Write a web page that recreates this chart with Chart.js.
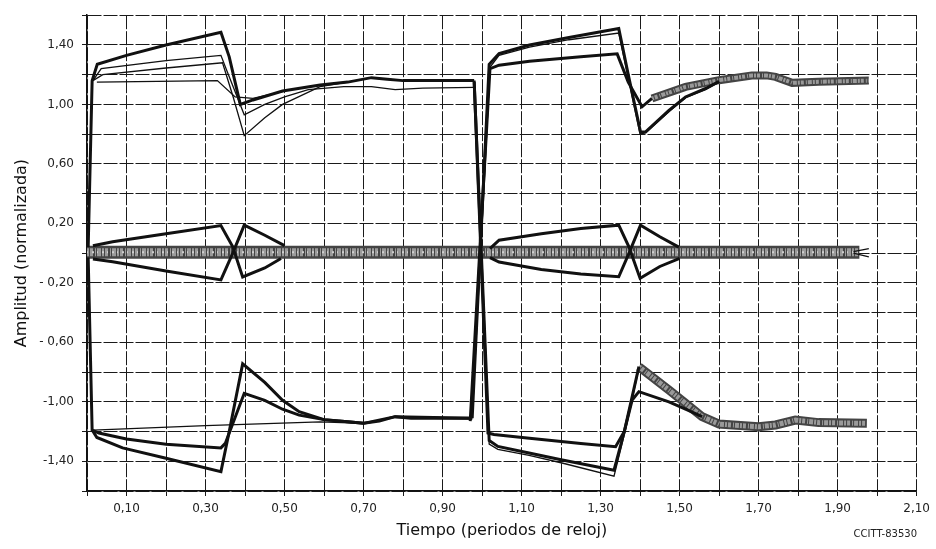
<!DOCTYPE html>
<html>
<head>
<meta charset="utf-8">
<script src="https://cdn.jsdelivr.net/npm/chart.js@4"></script>
<style>
  html, body { margin: 0; padding: 0; background: #fff; }
  #wrap { width: 936px; height: 549px; }
</style>
</head>
<body>
<div id="wrap"><canvas id="eyeChart" width="936" height="549"></canvas></div>
<script>
// tick labels
const xTickLabels = ["0,10", "0,30", "0,50", "0,70", "0,90", "1,10", "1,30", "1,50", "1,70", "1,90", "2,10"];
const yTickValues = [1.4, 1.0, 0.6, 0.2, -0.2, -0.6, -1.0, -1.4];
const yTickLabels = ["1,40", "1,00", "0,60", "0,20", "- 0,20", "- 0,60", "-1,00", "-1,40"];

// first period, "1" level traces
const up1A = [[0.003, 0.04], [0.013, 1.16], [0.026, 1.27], [0.1, 1.33], [0.2, 1.40], [0.339, 1.485], [0.36, 1.32], [0.388, 1.0], [0.42, 1.03], [0.495, 1.09], [0.59, 1.13], [0.66, 1.15], [0.72, 1.18], [0.76, 1.17], [0.8, 1.16], [0.98, 1.16]];
const up1B = [[0.015, 1.16], [0.036, 1.24], [0.2, 1.295], [0.339, 1.33], [0.355, 1.22], [0.398, 0.93], [0.45, 1.0], [0.5, 1.05], [0.56, 1.10], [0.65, 1.12], [0.72, 1.12], [0.78, 1.10], [0.85, 1.11], [0.98, 1.115]];
const up1C = [[0.015, 1.16], [0.04, 1.20], [0.2, 1.245], [0.343, 1.28], [0.37, 1.05], [0.398, 0.79], [0.45, 0.91], [0.495, 1.0], [0.59, 1.12], [0.66, 1.15], [0.72, 1.18], [0.8, 1.16], [0.98, 1.16]];
const up1D = [[0.025, 1.15], [0.33, 1.16], [0.375, 1.05], [0.42, 1.04], [0.5, 1.09]];

// first period, "-1" level traces
const lo1A = [[0.003, -0.03], [0.013, -1.19], [0.03, -1.21], [0.1, -1.25], [0.2, -1.285], [0.339, -1.31], [0.35, -1.28], [0.398, -0.943], [0.45, -0.99], [0.495, -1.05], [0.537, -1.09], [0.6, -1.12], [0.66, -1.134], [0.7, -1.145], [0.74, -1.13], [0.78, -1.10], [0.82, -1.11], [0.975, -1.11]];
const lo1B = [[0.013, -1.19], [0.025, -1.24], [0.09, -1.31], [0.2, -1.38], [0.339, -1.47], [0.36, -1.2], [0.394, -0.745], [0.45, -0.87], [0.495, -0.99], [0.537, -1.067], [0.6, -1.12], [0.66, -1.134], [0.7, -1.145], [0.78, -1.10], [0.975, -1.11]];
const lo1C = [[0.015, -1.19], [0.3, -1.16], [0.59, -1.135], [0.7, -1.145], [0.78, -1.10], [0.975, -1.11]];

// second period, "1" level traces
const up2A = [[0.975, -1.11], [1.018, 1.27], [1.043, 1.342], [1.12, 1.40], [1.22, 1.45], [1.346, 1.51], [1.37, 1.2], [1.401, 0.815], [1.414, 0.815], [1.473, 0.96], [1.515, 1.05], [1.566, 1.107], [1.6, 1.155]];
const up2B = [[0.975, -1.11], [1.02, 1.25], [1.043, 1.33], [1.12, 1.385], [1.22, 1.435], [1.346, 1.48], [1.37, 1.18], [1.40, 0.80], [1.414, 0.81], [1.473, 0.95], [1.515, 1.045], [1.566, 1.10], [1.6, 1.15]];
const up2C = [[0.97, -1.13], [1.02, 1.24], [1.043, 1.264], [1.12, 1.29], [1.25, 1.32], [1.342, 1.34], [1.37, 1.15], [1.405, 0.984], [1.43, 1.04]];
const up2Band = [[1.43, 1.04], [1.515, 1.118], [1.6, 1.163], [1.683, 1.195], [1.72, 1.195], [1.743, 1.185], [1.785, 1.145], [1.852, 1.152], [1.979, 1.16]];

// second period, "-1" level traces
const lo2A = [[0.98, 1.16], [1.015, -1.21], [1.03, -1.22], [1.12, -1.246], [1.25, -1.28], [1.338, -1.302], [1.36, -1.2], [1.38, -0.988], [1.397, -0.932], [1.473, -1.0], [1.515, -1.05], [1.557, -1.10]];
const lo2B = [[0.98, 1.15], [1.018, -1.26], [1.04, -1.30], [1.119, -1.345], [1.2, -1.39], [1.334, -1.46], [1.36, -1.2], [1.397, -0.764]];
const lo2C = [[0.98, 1.115], [1.018, -1.285], [1.04, -1.32], [1.119, -1.36], [1.2, -1.41], [1.334, -1.50], [1.36, -1.22], [1.397, -0.775]];
const lo2Band = [[1.397, -0.764], [1.473, -0.921], [1.515, -1.01], [1.557, -1.10], [1.6, -1.15], [1.7, -1.168], [1.743, -1.156], [1.793, -1.123], [1.852, -1.14], [1.974, -1.145]];

// "0" level traces
const zeroBand = [[0.0, 0.005], [1.955, 0.005]];
const zeroEndUp = [[1.94, 0.01], [1.979, 0.03]];
const zeroEndDn = [[1.94, 0.0], [1.979, -0.025]];
const mid1U = [[0.015, 0.05], [0.065, 0.076], [0.2, 0.13], [0.339, 0.185], [0.369, 0.042], [0.394, -0.16], [0.45, -0.1], [0.491, -0.036]];
const mid1L = [[0.015, -0.04], [0.065, -0.058], [0.2, -0.12], [0.339, -0.18], [0.369, 0.0], [0.398, 0.188], [0.45, 0.12], [0.5, 0.05]];
const mid2U = [[1.02, 0.03], [1.043, 0.087], [1.15, 0.13], [1.25, 0.165], [1.346, 0.188], [1.372, 0.04], [1.40, -0.17], [1.45, -0.09], [1.5, -0.035]];
const mid2L = [[1.02, -0.03], [1.043, -0.06], [1.15, -0.11], [1.25, -0.14], [1.346, -0.159], [1.372, 0.0], [1.401, 0.188], [1.45, 0.11], [1.498, 0.04]];

const pts = arr => arr.map(p => ({x: p[0], y: p[1]}));

const thick = (d) => ({data: pts(d), borderColor: "#111", borderWidth: 3, order: 1});
const thin = (d) => ({data: pts(d), borderColor: "#111", borderWidth: 1.3, order: 1});
// scanned grey bands: dark body with a speckled lighter overlay
const bandBase = (d, w) => ({data: pts(d), borderColor: "#444", borderWidth: w, order: 6, borderCapStyle: "butt"});
const bandTex = (d, w) => ({data: pts(d), borderColor: "#9a9a9a", borderWidth: w, borderDash: [2, 1, 3, 2, 1, 1, 4, 1], order: 5, borderCapStyle: "butt"});
const bandDots = (d, w) => ({data: pts(d), borderColor: "#d0d0d0", borderWidth: w, borderDash: [1, 4, 2, 3], order: 4, borderCapStyle: "butt"});

const datasets = [
  bandBase(zeroBand, 13), bandTex(zeroBand, 8), bandDots(zeroBand, 2),
  bandBase(up2Band, 8), bandTex(up2Band, 4),
  bandBase(lo2Band, 9), bandTex(lo2Band, 5),
  thin(zeroEndUp), thin(zeroEndDn),
  thick(up1A), thin(up1B), thin(up1C), thin(up1D),
  thick(lo1A), thick(lo1B), thin(lo1C),
  thick(up2A), thin(up2B), thick(up2C),
  thick(lo2A), thick(lo2B), thin(lo2C),
  thick(mid1U), thick(mid1L), thick(mid2U), thick(mid2L)
];

const footNote = {
  id: "footNote",
  afterDraw(chart) {
    const c = chart.ctx;
    c.save();
    c.font = "10px 'DejaVu Sans'";
    c.fillStyle = "#222";
    c.textAlign = "right";
    c.fillText("CCITT-83530", 917, 537);
    c.restore();
  }
};

const ctx = document.getElementById("eyeChart").getContext("2d");
const chart = new Chart(ctx, {
  type: "line",
  data: {datasets: datasets},
  options: {
    responsive: false,
    animation: false,
    layout: {padding: {top: 15, right: 18, left: 0, bottom: 0}},
    elements: {point: {radius: 0}, line: {tension: 0, fill: false}},
    scales: {
      x: {
        type: "linear",
        min: 0,
        max: 2.1,
        afterFit: s => { s.height = 58; },
        ticks: {
          stepSize: 0.1,
          autoSkip: false,
          maxRotation: 0,
          color: "#222",
          padding: 6,
          font: {family: "DejaVu Sans", size: 12},
          callback: v => {
            const n = Math.round(v * 10);
            return n % 2 === 1 ? xTickLabels[(n - 1) / 2] : "";
          }
        },
        grid: {color: "#1a1a1a", lineWidth: 1, tickLength: 5},
        border: {color: "#111", width: 1.5, dash: [14, 2]},
        title: {display: true, text: "Tiempo (periodos de reloj)", color: "#111",
          font: {family: "DejaVu Sans", size: 16}, padding: {top: 2, bottom: 9}}
      },
      y: {
        min: -1.6,
        max: 1.6,
        afterFit: s => { s.width = 87; },
        ticks: {
          stepSize: 0.2,
          autoSkip: false,
          color: "#222",
          padding: 8,
          font: {family: "DejaVu Sans", size: 12},
          callback: v => {
            const n = Math.round(v * 10);
            const i = yTickValues.findIndex(t => Math.round(t * 10) === n);
            return i >= 0 ? yTickLabels[i] : "";
          }
        },
        grid: {color: "#1a1a1a", lineWidth: 1, tickLength: 5},
        border: {color: "#111", width: 1.5, dash: [14, 2]},
        title: {display: true, text: "Amplitud (normalizada)", color: "#111",
          font: {family: "DejaVu Sans", size: 16}, padding: {top: 12, bottom: 0}}
      }
    },
    plugins: {
      legend: {display: false},
      tooltip: {enabled: false}
    }
  },
  plugins: [footNote]
});
</script>
</body>
</html>
